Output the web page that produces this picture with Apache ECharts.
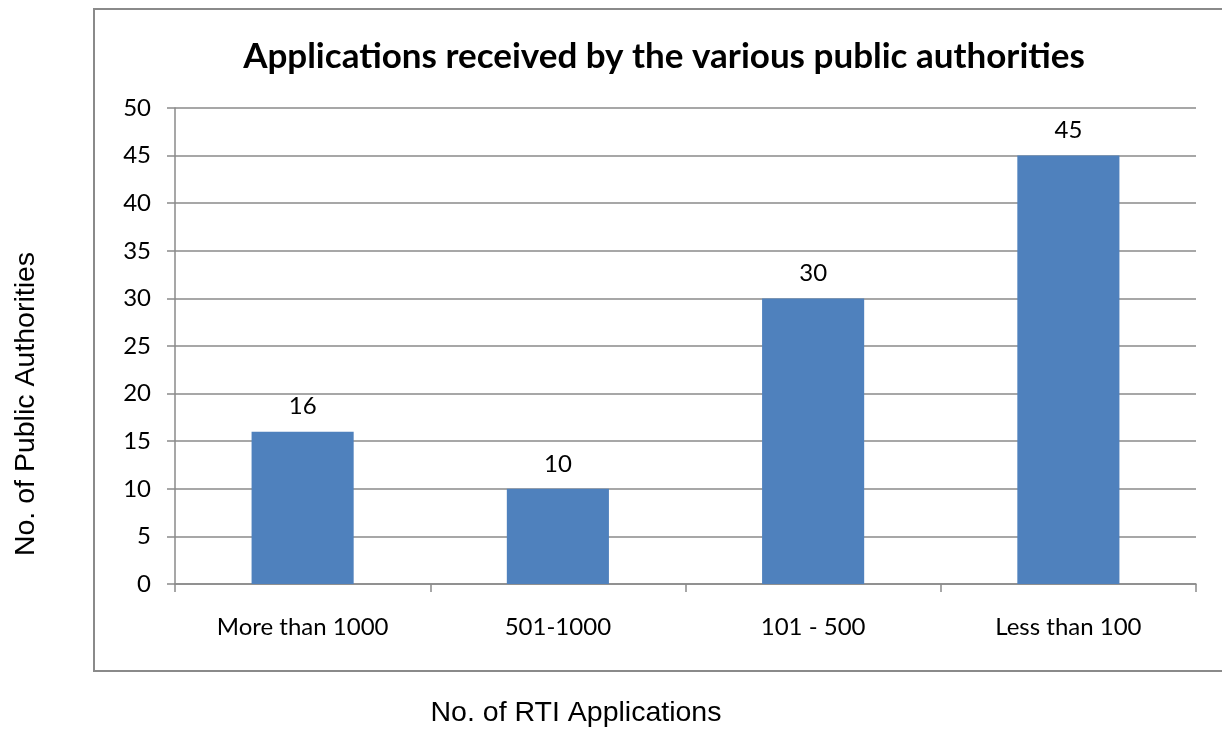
<!DOCTYPE html>
<html><head><meta charset="utf-8">
<script src="https://cdn.jsdelivr.net/npm/echarts@6/dist/echarts.min.js"></script>
<style>html,body{margin:0;padding:0;background:#fff}#c{width:1222px;height:730px}</style>
</head><body><div id="c"></div>
<script>
var categories = ['More than 1000', '501-1000', '101 - 500', 'Less than 100'];
var values = [16, 10, 30, 45];
var yTicks = [0, 5, 10, 15, 20, 25, 30, 35, 40, 45, 50];
var xAxisName = 'No. of RTI Applications';
var yAxisName = 'No. of Public Authorities';

var chart = echarts.init(document.getElementById('c'));
chart.setOption({
  animation: false,
  backgroundColor: '#fff',
  graphic: [{
    type: 'rect', shape: { x: 94, y: 9, width: 1140, height: 662 },
    style: { fill: 'none', stroke: '#8a8a8a', lineWidth: 2 }, z: -1
  }, {
    type: 'text', x: 576, y: 713,
    style: { text: xAxisName, fontFamily: 'Liberation Sans', fontSize: 28.5, fill: '#000', align: 'center', verticalAlign: 'middle' }
  }, {
    type: 'text', x: 26, y: 404, rotation: Math.PI / 2,
    style: { text: yAxisName, fontFamily: 'Liberation Sans', fontSize: 28.5, fill: '#000', align: 'center', verticalAlign: 'middle' }
  }],
  title: {
    text: 'Applications received by the various public authorities',
    left: 659, textAlign: 'center', top: 34,
    textStyle: { fontFamily: 'Lato', fontWeight: 'bold', fontSize: 35, color: '#000' }
  },
  grid: { left: 175, right: 26, top: 108, bottom: 146, outerBoundsMode: 'none', containLabel: false },
  xAxis: {
    type: 'category', data: categories,
    axisLine: { lineStyle: { color: '#8a8a8a', width: 1.5 } },
    axisTick: { show: true, length: 8, alignWithLabel: false, lineStyle: { color: '#8a8a8a', width: 1.5 } },
    axisLabel: { fontFamily: 'Lato', fontSize: 24, color: '#000', margin: 31 }
  },
  yAxis: {
    type: 'value', min: yTicks[0], max: yTicks[yTicks.length - 1], interval: 5,
    axisLine: { show: true, lineStyle: { color: '#8a8a8a', width: 1.5 } },
    axisTick: { show: true, length: 8, lineStyle: { color: '#8a8a8a', width: 1.5 } },
    axisLabel: { fontFamily: 'Lato', fontSize: 24, color: '#000', margin: 24 },
    splitLine: { show: true, lineStyle: { color: '#8a8a8a', width: 1.5 } }
  },
  series: [{
    type: 'bar', data: values, barWidth: '40%',
    itemStyle: { color: '#4F81BD' },
    label: { show: true, position: 'top', distance: 13, fontFamily: 'Lato', fontSize: 24, color: '#000' }
  }]
});
</script></body></html>
